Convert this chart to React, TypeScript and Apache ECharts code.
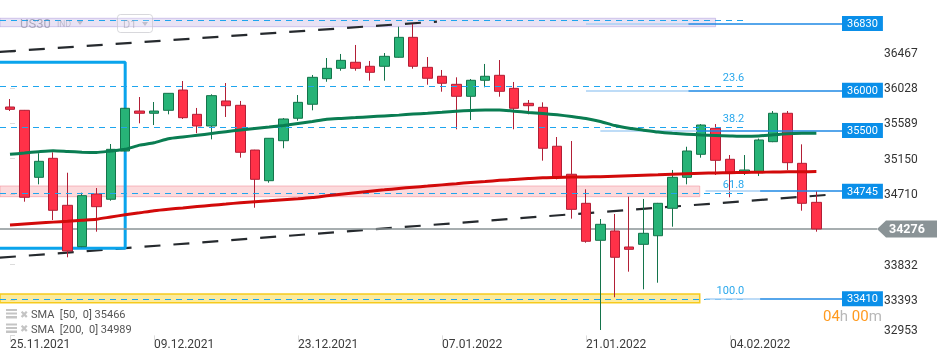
import React, { useEffect, useRef } from 'react';
import * as echarts from 'echarts';

// ---- data (daily candles, index 0 = 25.11.2021) ----
const OPEN = [35792, 35751, 34918, 35154, 34570, 34056, 34711, 34645, 35245, 35742, 35714, 35751, 36003, 35701, 35556, 35867, 35813, 35257, 34876, 35373, 35652, 35826, 36144, 36273, 36348, 36298, 36298, 36410, 36658, 36285, 36174, 36074, 35925, 36124, 36186, 36024, 35838, 35788, 35304, 34956, 34595, 34135, 34251, 34052, 34085, 34192, 34533, 34918, 35204, 35527, 35142, 34980, 34988, 35361, 35714, 35092, 34607];
const CLOSE = [35763, 34670, 35117, 34508, 34002, 34690, 34553, 35266, 35776, 35714, 35742, 35962, 35659, 35556, 35933, 35808, 35229, 34893, 35403, 35643, 35850, 36161, 36273, 36372, 36273, 36223, 36422, 36658, 36298, 36149, 36087, 35925, 36124, 36174, 35987, 35776, 35808, 35279, 34926, 34520, 34123, 34334, 33924, 34023, 34222, 34595, 34918, 35245, 35568, 35129, 34980, 35009, 35382, 35714, 35100, 34595, 34276];
const LOW = [35742, 34615, 34831, 34387, 33924, 34050, 34242, 34627, 35240, 35589, 35568, 35701, 35643, 35465, 35390, 35668, 35162, 34540, 34851, 35279, 35622, 35751, 36106, 36243, 36243, 36119, 36119, 36405, 36268, 36069, 35982, 35515, 35630, 36037, 35920, 35515, 35701, 35125, 34893, 34404, 34105, 33020, 33427, 33745, 33526, 33608, 34304, 34831, 35162, 34947, 34670, 34947, 34934, 35355, 35009, 34503, 34242];
const HIGH = [35891, 35755, 35217, 35229, 34975, 34727, 34785, 35332, 35780, 35916, 35854, 35965, 36115, 35780, 35950, 36090, 35867, 35260, 35405, 35655, 35941, 36190, 36401, 36451, 36563, 36364, 36463, 36790, 36824, 36413, 36252, 36161, 36140, 36327, 36376, 36103, 35879, 35850, 35419, 35369, 34769, 34400, 34462, 34677, 34649, 34600, 35009, 35298, 35580, 35580, 35195, 35195, 35400, 35742, 35742, 35328, 34748];
const SMA50 = [35204, 35220, 35236, 35248, 35239, 35230, 35226, 35245, 35266, 35318, 35347, 35398, 35420, 35440, 35463, 35485, 35506, 35525, 35542, 35562, 35587, 35612, 35639, 35650, 35660, 35671, 35681, 35691, 35704, 35715, 35727, 35739, 35749, 35755, 35755, 35740, 35725, 35711, 35695, 35674, 35649, 35612, 35561, 35528, 35504, 35481, 35465, 35454, 35444, 35438, 35432, 35427, 35432, 35447, 35460, 35465, 35466];
const SMA200 = [34325, 34338, 34350, 34361, 34372, 34385, 34397, 34425, 34452, 34477, 34503, 34522, 34538, 34554, 34570, 34586, 34602, 34615, 34627, 34640, 34651, 34666, 34688, 34708, 34727, 34745, 34762, 34780, 34795, 34809, 34824, 34839, 34854, 34867, 34880, 34892, 34903, 34913, 34917, 34921, 34923, 34926, 34932, 34938, 34944, 34950, 34957, 34963, 34968, 34972, 34975, 34979, 34981, 34984, 34986, 34988, 34989];

const X_TICK_INDEX = [0, 10, 20, 30, 40, 50];
const X_TICK_LABELS = ['25.11.2021', '09.12.2021', '23.12.2021', '07.01.2022', '21.01.2022', '04.02.2022'];
const Y_TICKS = [32953, 33393, 33832, 34710, 35150, 35589, 36028, 36467];

const FIB_HIGH = 36870;
const FIB_LOW = 33400;
const FIB_LEVELS = [0, 23.6, 38.2, 61.8, 100];
const FIB_LABELS = ['', '23.6', '38.2', '61.8', '100.0'];
const FIB_END = 51.2;

const PRICE_LEVELS = [36830, 36000, 35500, 34745, 33410];
const PRICE_LEVEL_FROM = [40, 40, 41, 48.3, 48.3];

const ZONE_LOW = [36790, 34677, 33359];
const ZONE_HIGH = [36895, 34810, 33468];
const ZONE_END = [49, 47.9, 47.9];

const CHANNEL_UPPER = [[-0.7, 36476], [29.65, 36853]];
const CHANNEL_LOWER = [[-0.7, 33919], [57.08, 34704]];
const BOX_FROM = -3, BOX_TO = 8, BOX_TOP = 36348, BOX_BOTTOM = 34036;

const LAST_PRICE = 34276;
const SMA50_LAST = 35466;
const SMA200_LAST = 34989;

// ---- axis extents ----
const X_MIN = -0.694, X_MAX = 57.78, Y_MIN = 32953, Y_MAX = 37122;
const FONT = 'Roboto, "Noto Sans", sans-serif';

function buildOption(): any {
  const candles = OPEN.map((o, i) => [i, o, CLOSE[i], LOW[i], HIGH[i]]);
  const fibLines = FIB_LEVELS.map((lv, i) => {
    const v = FIB_HIGH - (lv / 100) * (FIB_HIGH - FIB_LOW);
    return [
      { coord: [X_MIN, v], label: { show: FIB_LABELS[i] !== '', formatter: FIB_LABELS[i] } },
      { coord: [FIB_END, v] },
    ];
  });
  const levelLines: any[] = [];
  PRICE_LEVELS.forEach((v, i) => {
    const from = PRICE_LEVEL_FROM[i];
    const mid = from + (X_MAX - from) * 0.4;
    levelLines.push([
      { coord: [from, v], lineStyle: { color: '#a9d0f5', width: 1.5 }, label: { show: false } },
      { coord: [mid, v] },
    ]);
    levelLines.push([
      { coord: [mid, v], lineStyle: { color: '#1e88e5', width: 1.5 }, label: { show: true, formatter: String(v) } },
      { coord: [X_MAX, v] },
    ]);
  });
  const zone = (k: number) => [
    { coord: [X_MIN, ZONE_HIGH[k]] },
    { coord: [ZONE_END[k], ZONE_LOW[k]] },
  ];

  return {
    animation: false,
    textStyle: { fontFamily: FONT },
    grid: { left: 0, right: 108, top: 0, bottom: 25.6, containLabel: false },
    xAxis: {
      type: 'value', min: X_MIN, max: X_MAX,
      axisLine: { show: false }, splitLine: { show: false },
      axisTick: { show: true, customValues: X_TICK_INDEX, length: 5, lineStyle: { color: '#dcdcdc' } },
      axisLabel: {
        customValues: X_TICK_INDEX,
        formatter: (v: number) => {
          const k = X_TICK_INDEX.indexOf(Math.round(v));
          return k >= 0 ? X_TICK_LABELS[k] : '';
        },
        align: 'left', color: '#3c3c3c', fontSize: 12, margin: 3, fontFamily: FONT,
      },
    },
    yAxis: {
      type: 'value', position: 'right', offset: 40, min: Y_MIN, max: Y_MAX,
      axisLine: { show: false }, splitLine: { show: false },
      axisTick: { show: true, customValues: Y_TICKS, length: 5, lineStyle: { color: '#dcdcdc' } },
      axisLabel: {
        customValues: Y_TICKS, color: '#333', fontSize: 12, margin: 2, fontFamily: FONT,
        formatter: (v: number) => {
          const s = String(Math.round(v));
          return Math.round(v) === Y_TICKS[0] ? `{lo|${s}}` : s;
        },
        rich: { lo: { color: '#333', fontSize: 12, fontFamily: FONT, padding: [0, 0, 10, 0] } },
      },
    },
    series: [
      {
        type: 'line', data: [], z: 1, silent: true,
        markLine: {
          silent: true, symbol: ['none', 'none'], animation: false,
          lineStyle: { color: '#1ea5ee', width: 1, type: [6, 5] },
          label: { position: 'insideEndTop', color: '#2aa8ec', fontSize: 11, distance: 3, fontFamily: FONT },
          data: fibLines,
        },
      },
      {
        type: 'line', data: [], z: 2, silent: true,
        markArea: {
          silent: true,
          itemStyle: { color: 'rgba(250,215,60,0.5)', borderColor: 'rgba(245,200,20,0.95)', borderWidth: 1.5 },
          data: [zone(2)],
        },
      },
      {
        type: 'line', data: CHANNEL_UPPER, z: 3, symbol: 'none', silent: true,
        lineStyle: { color: '#262a2e', width: 2.2, type: [16, 13] },
      },
      {
        type: 'line', data: CHANNEL_LOWER, z: 3, symbol: 'none', silent: true,
        lineStyle: { color: '#262a2e', width: 2.2, type: [16, 13] },
      },
      {
        type: 'line', z: 3, symbol: 'none', silent: true,
        data: [[BOX_FROM, BOX_TOP], [BOX_TO, BOX_TOP], [BOX_TO, BOX_BOTTOM], [BOX_FROM, BOX_BOTTOM]],
        lineStyle: { color: '#0aa4ec', width: 3 },
      },
      {
        type: 'line', z: 3, symbol: 'none', silent: true,
        data: [[X_MIN, LAST_PRICE], [X_MAX, LAST_PRICE]],
        lineStyle: { color: '#8a9396', width: 1.5 },
      },
      {
        type: 'candlestick', z: 4, barWidth: 10, data: candles,
        itemStyle: {
          color: '#27b377', color0: '#ff3148',
          borderColor: '#14744b', borderColor0: '#b21f36', borderWidth: 1,
        },
      },
      {
        type: 'line', z: 5, symbol: 'none', smooth: 0.2, silent: true,
        data: SMA50.map((v, i) => [i, v]),
        lineStyle: { color: '#0a7d52', width: 3 },
      },
      {
        type: 'line', z: 5, symbol: 'none', smooth: 0.2, silent: true,
        data: SMA200.map((v, i) => [i, v]),
        lineStyle: { color: '#d20a0a', width: 3 },
      },
      {
        type: 'line', data: [], z: 6, silent: true,
        markArea: {
          silent: true,
          data: [
            [{ ...zone(0)[0], itemStyle: { color: 'rgba(178,158,218,0.3)', borderColor: 'rgba(160,140,215,0.45)', borderWidth: 1 } }, zone(0)[1]],
            [{ ...zone(1)[0], itemStyle: { color: 'rgba(245,150,155,0.35)', borderColor: 'rgba(240,140,150,0.55)', borderWidth: 1 } }, zone(1)[1]],
          ],
        },
      },
      {
        type: 'line', data: [], z: 7, silent: true,
        markLine: {
          silent: true, symbol: ['none', 'none'], animation: false,
          lineStyle: { type: 'solid' },
          label: {
            position: 'end', distance: 0, color: '#fff', fontSize: 11, fontFamily: FONT,
            backgroundColor: '#0a8fe9', padding: [2, 5, 2, 5],
          },
          data: levelLines,
        },
      },
    ],
  };
}

export default function App() {
  const ref = useRef<HTMLDivElement>(null);
  useEffect(() => {
    const chart = echarts.init(ref.current as HTMLDivElement, null, { renderer: 'svg' });
    chart.setOption(buildOption());
    const pEdge = chart.convertToPixel({ gridIndex: 0 }, [X_MAX, LAST_PRICE]) as number[];
    const xEdge = pEdge[0];
    const yP = pEdge[1];
    const tipX = xEdge + 35;
    const gray = 'rgba(120,120,140,0.55)';
    const iconGray = '#c4c4c4';
    const elements: any[] = [
      // current price marker
      { type: 'line', shape: { x1: xEdge, y1: yP, x2: tipX, y2: yP }, style: { stroke: '#8a9396', lineWidth: 1.5 }, z: 100 },
      {
        type: 'polygon', z: 100,
        shape: { points: [[tipX, yP], [tipX + 9, yP - 8.5], [tipX + 60, yP - 8.5], [tipX + 60, yP + 8.5], [tipX + 9, yP + 8.5]] },
        style: { fill: '#8a9396' },
      },
      {
        type: 'text', z: 101, x: tipX + 12, y: yP,
        style: { text: String(LAST_PRICE), fill: '#fff', fontSize: 12.5, fontWeight: 'bold', fontFamily: FONT, align: 'left', verticalAlign: 'middle', textAlign: 'left', textVerticalAlign: 'middle' },
      },
      // top-left symbol selector (faded UI)
      { type: 'text', z: 100, x: 20, y: 23, style: { text: 'US30', fill: gray, fontSize: 13, fontFamily: FONT, verticalAlign: 'middle', textVerticalAlign: 'middle' } },
      { type: 'text', z: 100, x: 57, y: 24, style: { text: 'IND', fill: 'rgba(150,150,165,0.5)', fontSize: 8.5, fontFamily: FONT, verticalAlign: 'middle', textVerticalAlign: 'middle' } },
      { type: 'polygon', z: 100, shape: { points: [[77, 21], [83, 21], [80, 25]] }, style: { fill: 'rgba(150,150,165,0.5)' } },
      { type: 'rect', z: 100, shape: { x: 117.5, y: 14.5, width: 35, height: 18, r: 3 }, style: { fill: 'rgba(255,255,255,0.2)', stroke: 'rgba(200,200,205,0.7)', lineWidth: 1 } },
      { type: 'text', z: 101, x: 123, y: 24, style: { text: 'D1', fill: 'rgba(140,140,155,0.45)', fontSize: 11, fontFamily: FONT, verticalAlign: 'middle', textVerticalAlign: 'middle' } },
      { type: 'polygon', z: 101, shape: { points: [[142, 22], [148, 22], [145, 26]] }, style: { fill: 'rgba(150,150,165,0.5)' } },
      // countdown
      {
        type: 'text', z: 100, x: 823, y: 316,
        style: {
          text: '{o|04}{g|h} {o|00}{g|m}', fontSize: 15, fontFamily: FONT, verticalAlign: 'middle', textVerticalAlign: 'middle',
          rich: { o: { fill: '#ff9a1f', fontSize: 15, fontFamily: FONT }, g: { fill: '#b8b8b8', fontSize: 15, fontFamily: FONT } },
        },
      },
    ];
    // indicator legend
    const legendRows = [`SMA  [50,  0] ${SMA50_LAST}`, `SMA  [200,  0] ${SMA200_LAST}`];
    legendRows.forEach((t, k) => {
      const cy = 314 + k * 14.5;
      elements.push(
        { type: 'rect', z: 100, shape: { x: 6, y: cy - 5, width: 11, height: 2 }, style: { fill: iconGray } },
        { type: 'rect', z: 100, shape: { x: 6, y: cy - 1.5, width: 11, height: 2 }, style: { fill: iconGray } },
        { type: 'rect', z: 100, shape: { x: 6, y: cy + 2, width: 11, height: 2.5 }, style: { fill: iconGray } },
        { type: 'text', z: 100, x: 20, y: cy, style: { text: '✖', fill: iconGray, fontSize: 10, fontFamily: 'DejaVu Sans', verticalAlign: 'middle', textVerticalAlign: 'middle' } },
        { type: 'text', z: 100, x: 31, y: cy + 0.5, style: { text: t, fill: '#555', fontSize: 11, fontFamily: FONT, verticalAlign: 'middle', textVerticalAlign: 'middle' } },
      );
    });
    chart.setOption({ graphic: { elements } });
    return () => chart.dispose();
  }, []);
  return <div ref={ref} style={{ position: 'fixed', left: 0, top: 0, width: 950, height: 361 }} />;
}
